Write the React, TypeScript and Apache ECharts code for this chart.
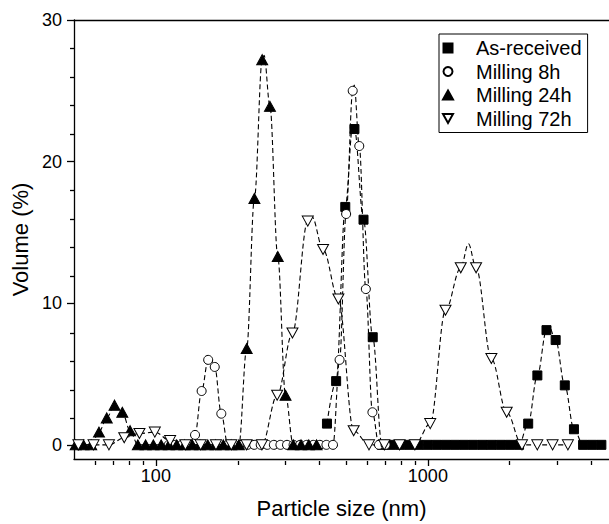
import { useEffect, useRef } from "react";
import * as echarts from "echarts";

const FONT = "'Liberation Sans', Arial, Helvetica, sans-serif";

// ---- Data (particle size in nm, volume in %) ----
const asReceivedSize = [425.6, 460, 497, 537, 580, 627, 677.5, 732, 791, 854.6, 923.4, 997.7, 1078, 1165, 1259, 1360, 1469, 1588, 1715, 1853, 2003, 2164, 2338, 2527, 2730, 2950, 3187, 3444, 3721, 4020, 4344];
const asReceivedVolume = [1.5, 4.5, 16.8, 22.3, 15.9, 7.6, 0, 0, 0, 0, 0, 0, 0, 0, 0, 0, 0, 0, 0, 0, 0, 0, 1.5, 4.9, 8.1, 7.4, 4.2, 1.1, 0, 0, 0];

const milling8hSize = [111.5, 117.9, 124.6, 131.8, 139.3, 147.3, 155.7, 164.6, 174.0, 183.9, 194.5, 205.6, 217.3, 229.8, 242.9, 256.8, 271.5, 287.0, 303.5, 320.8, 339.2, 358.6, 379.1, 400.8, 423.7, 447.9, 473.6, 500.6, 529.3, 559.5, 591.5, 625.4, 661.1, 698.9];
const milling8hVolume = [0, 0, 0, 0, 0.7, 3.8, 6.0, 5.5, 2.2, 0, 0, 0, 0, 0, 0, 0, 0, 0, 0, 0, 0, 0, 0, 0, 0, 0, 6.0, 16.3, 25.0, 21.1, 11.0, 2.3, 0, 0];

const milling24hSize = [50.71, 54.16, 57.85, 61.78, 65.98, 70.47, 75.26, 80.38, 85.85, 91.69, 97.92, 104.6, 111.7, 119.3, 127.4, 136.1, 145.3, 155.2, 165.8, 177.0, 189.1, 201.9, 215.7, 230.3, 246.0, 262.7, 280.6, 299.7, 320.0, 341.8, 365.0, 389.9];
const milling24hVolume = [0, 0, 0, 0.9, 1.9, 2.8, 2.3, 1.0, 0, 0, 0, 0, 0, 0, 0, 0, 0, 0, 0, 0, 0, 0, 6.8, 17.4, 27.2, 23.9, 13.3, 3.5, 0, 0, 0, 0];

const milling72hSize = [51.9, 59.0, 67.2, 76.5, 87.0, 99.1, 112.8, 128.4, 146.1, 166.3, 189.3, 215.5, 245.3, 279.2, 317.8, 361.8, 411.8, 468.8, 533.6, 607.4, 691.4, 787, 895.8, 1020, 1161, 1321, 1504, 1712, 1949, 2218, 2525, 2874, 3272];
const milling72hVolume = [0, 0, 0, 0.5, 0.8, 0.9, 0.3, 0, 0, 0, 0, 0, 0, 3.5, 7.9, 15.8, 13.8, 10.3, 1.0, 0, 0, 0, 0, 1.5, 9.5, 12.5, 12.5, 6.1, 2.3, 0, 0, 0, 0];

// apex points of the dashed fit curves: [size nm, volume %]
const asReceivedFitApex = [[530, 22.6], [2790, 8.35]];
const milling8hFitApex = [[159, 6.15], [536, 25.4]];
const milling24hFitApex = [[250, 27.5]];
const milling72hFitApex = [[375, 16.1], [1410, 14.2]];

const seriesNames = ["As-received", "Milling 8h", "Milling 24h", "Milling 72h"];

// axis ticks
const xMajorTicks = [100, 1000];
const xMinorTicks = [60, 70, 80, 90, 200, 300, 400, 500, 600, 700, 800, 900, 2000, 3000, 4000];
const yMajorTicks = [0, 10, 20, 30];
const yMinorTicks = [2, 4, 6, 8, 12, 14, 16, 18, 22, 24, 26, 28];
const X_MIN = 50;
const X_MAX = 4634;
const Y_MIN = -1;
const Y_MAX = 30;

function toPoints(xs: number[], ys: number[]) {
  return xs.map((x, i) => [Math.log10(x), ys[i]]);
}
function curvePoints(xs: number[], ys: number[], apex: number[][]) {
  const pts = xs.map((x, i) => [x, ys[i]]).concat(apex);
  pts.sort((a, b) => a[0] - b[0]);
  return pts.map((p) => [Math.log10(p[0]), p[1]]);
}

export default function App() {
  const ref = useRef<HTMLDivElement>(null);
  useEffect(() => {
    if (!ref.current) return;
    const chart = echarts.init(ref.current, null, { renderer: "svg" });
    const axisLineStyle = { color: "#000", width: 1.3 };
    const lg = Math.log10;

    const dataSets = [
      { size: asReceivedSize, vol: asReceivedVolume, apex: asReceivedFitApex, symbol: "rect", symbolSize: 9, fill: "#000", rotate: 0 },
      { size: milling8hSize, vol: milling8hVolume, apex: milling8hFitApex, symbol: "circle", symbolSize: 9, fill: "#fff", rotate: 0 },
      { size: milling24hSize, vol: milling24hVolume, apex: milling24hFitApex, symbol: "triangle", symbolSize: [11, 10], fill: "#000", rotate: 0 },
      { size: milling72hSize, vol: milling72hVolume, apex: milling72hFitApex, symbol: "triangle", symbolSize: [11, 10], fill: "#fff", rotate: 180 },
    ];

    const series: any[] = [];
    dataSets.forEach((d, i) => {
      series.push({
        type: "line",
        name: seriesNames[i] + " fit",
        xAxisIndex: 0,
        yAxisIndex: 0,
        data: curvePoints(d.size, d.vol, d.apex),
        smooth: 0.35,
        smoothMonotone: "x",
        symbol: "none",
        silent: true,
        lineStyle: { color: "#000", width: 1.1, type: [5, 3] },
        z: 2,
      });
      series.push({
        type: "scatter",
        name: seriesNames[i],
        xAxisIndex: 0,
        yAxisIndex: 0,
        data: toPoints(d.size, d.vol),
        symbol: d.symbol,
        symbolSize: d.symbolSize,
        symbolRotate: d.rotate,
        itemStyle: { color: d.fill, borderColor: "#000", borderWidth: 1, opacity: 1 },
        z: 2,
      });
    });

    const option: any = {
      animation: false,
      backgroundColor: "#fff",
      grid: [
        { left: 74, right: 0, top: 20, bottom: 63 },
        { left: 74, right: 0, top: 20, bottom: 63 },
      ],
      xAxis: [
        {
          gridIndex: 0,
          type: "value",
          position: "bottom",
          min: lg(X_MIN),
          max: lg(X_MAX),
          axisLine: { show: true, onZero: false, lineStyle: axisLineStyle },
          axisTick: { show: true, inside: false, length: 7, customValues: xMajorTicks.map(lg), lineStyle: axisLineStyle },
          axisLabel: {
            show: true,
            customValues: xMajorTicks.map(lg),
            formatter: (v: number) => String(Math.round(Math.pow(10, v))),
            margin: 8,
            color: "#000",
            fontSize: 18,
            fontFamily: FONT,
          },
          splitLine: { show: false },
          name: "Particle size (nm)",
          nameLocation: "middle",
          nameGap: 38,
          nameTextStyle: { color: "#000", fontSize: 22, fontFamily: FONT },
        },
        {
          gridIndex: 0,
          type: "value",
          position: "top",
          min: lg(X_MIN),
          max: lg(X_MAX),
          axisLine: { show: true, onZero: false, lineStyle: axisLineStyle },
          axisTick: { show: false },
          axisLabel: { show: false },
          splitLine: { show: false },
        },
        {
          gridIndex: 1,
          type: "value",
          position: "bottom",
          min: lg(X_MIN),
          max: lg(X_MAX),
          axisLine: { show: false, onZero: false },
          axisTick: { show: true, inside: false, length: 4, customValues: xMinorTicks.map(lg), lineStyle: axisLineStyle },
          axisLabel: { show: false },
          splitLine: { show: false },
        },
      ],
      yAxis: [
        {
          gridIndex: 0,
          type: "value",
          position: "left",
          min: Y_MIN,
          max: Y_MAX,
          axisLine: { show: true, onZero: false, lineStyle: axisLineStyle },
          axisTick: { show: true, inside: false, length: 7, customValues: yMajorTicks, lineStyle: axisLineStyle },
          axisLabel: { show: true, customValues: yMajorTicks, margin: 12, color: "#000", fontSize: 18, fontFamily: FONT },
          splitLine: { show: false },
          name: "Volume (%)",
          nameLocation: "middle",
          nameGap: 36,
          nameTextStyle: { color: "#000", fontSize: 22, fontFamily: FONT },
        },
        {
          gridIndex: 1,
          type: "value",
          position: "left",
          min: Y_MIN,
          max: Y_MAX,
          axisLine: { show: false, onZero: false },
          axisTick: { show: true, inside: false, length: 4, customValues: yMinorTicks, lineStyle: axisLineStyle },
          axisLabel: { show: false },
          splitLine: { show: false },
        },
      ],
      legend: {
        orient: "vertical",
        left: 439,
        top: 34,
        data: [
          { name: "As-received", icon: "path://M0,0L8,0L8,8L0,8Z" },
          { name: "Milling 8h", icon: "circle" },
          { name: "Milling 24h", icon: "path://M5,0L10,9L0,9Z" },
          { name: "Milling 72h", icon: "path://M0,0L10,0L5,9Z" },
        ],
        itemWidth: 46,
        itemHeight: 9,
        itemGap: 3.5,
        padding: [4, 6, 4, 3],
        borderColor: "#000",
        borderWidth: 1,
        backgroundColor: "#fff",
        selectedMode: false,
        symbolKeepAspect: true,
        textStyle: { fontSize: 20, color: "#000", fontFamily: FONT, lineHeight: 20 },
      },
      series,
    };
    chart.setOption(option);
    return () => chart.dispose();
  }, []);
  return (
    <div
      ref={ref}
      style={{ position: "absolute", left: 0, top: 0, width: 609, height: 524, background: "#fff" }}
    />
  );
}
